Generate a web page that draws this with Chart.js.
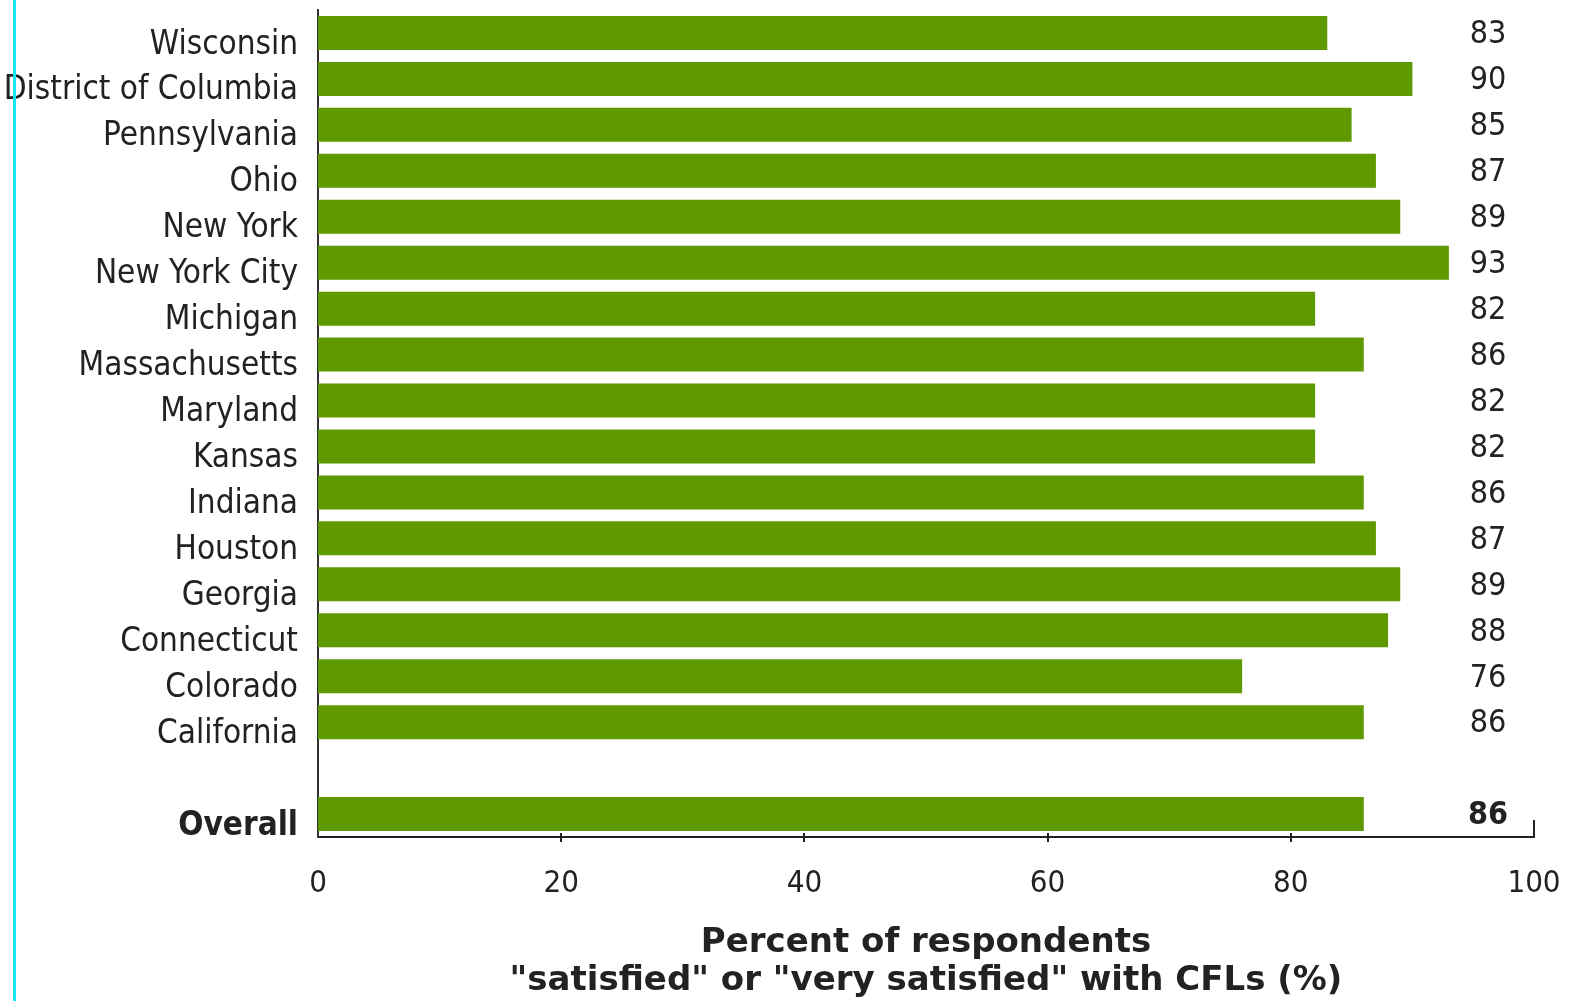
<!DOCTYPE html>
<html>
<head>
<meta charset="utf-8">
<script src="https://cdn.jsdelivr.net/npm/chart.js@4/dist/chart.umd.min.js"></script>
<style>
  html, body { margin: 0; padding: 0; background: #ffffff; }
  #wrap { width: 1572px; height: 1001px; position: relative; }
</style>
</head>
<body>
<div id="wrap"><canvas id="chart" width="1572" height="1001"></canvas></div>
<script>
// Survey regions, top to bottom; the empty entry leaves a gap before the overall figure
const categories = ['Wisconsin', 'District of Columbia', 'Pennsylvania', 'Ohio', 'New York',
  'New York City', 'Michigan', 'Massachusetts', 'Maryland', 'Kansas', 'Indiana', 'Houston',
  'Georgia', 'Connecticut', 'Colorado', 'California', '', 'Overall'];
const satisfied = [83, 90, 85, 87, 89, 93, 82, 86, 82, 82, 86, 87, 89, 88, 76, 86, null, 86];
const xTicks = [0, 20, 40, 60, 80, 100];
const titleLines = ['Percent of respondents', '"satisfied" or "very satisfied" with CFLs (%)'];

const GREEN = '#5f9900';
const INK = '#222222';
const NARROW = '"DejaVu Sans Condensed", "Liberation Sans Narrow", "DejaVu Sans", sans-serif';

// Page edge rule plus axis tick marks
const decorations = {
  id: 'decorations',
  beforeDraw(chart) {
    const ctx = chart.ctx;
    ctx.save();
    ctx.fillStyle = '#ffffff';
    ctx.fillRect(0, 0, chart.width, chart.height);
    ctx.restore();
  },
  afterDraw(chart) {
    const ctx = chart.ctx;
    const x = chart.scales.x;
    const base = chart.scales.y.bottom;
    ctx.save();
    ctx.strokeStyle = INK;
    ctx.lineWidth = 2;
    xTicks.forEach(v => {
      if (v === 0) return;
      const px = Math.round(x.getPixelForValue(v));
      ctx.beginPath();
      if (v === 100) {
        ctx.moveTo(px, base - 17);
        ctx.lineTo(px, base + 1);
      } else {
        ctx.moveTo(px, base - 4);
        ctx.lineTo(px, base + 5);
      }
      ctx.stroke();
    });
    // thin cyan rule along the left edge of the page
    ctx.fillStyle = '#19e6f2';
    ctx.fillRect(13, 0, 3, chart.height);
    ctx.restore();
  }
};

// Value column to the right of the bars
const valueLabels = {
  id: 'valueLabels',
  afterDatasetsDraw(chart) {
    const ctx = chart.ctx;
    const y = chart.scales.y;
    const cx = chart.chartArea.right - 46;
    ctx.save();
    ctx.fillStyle = INK;
    ctx.textAlign = 'center';
    ctx.textBaseline = 'middle';
    satisfied.forEach((v, i) => {
      if (v === null) return;
      const bold = categories[i] === 'Overall';
      ctx.font = (bold ? 'bold ' : '') + '32px ' + NARROW;
      ctx.fillText(String(v), cx, y.getPixelForValue(i) + 2);
    });
    ctx.restore();
  }
};

function noEdgePadding(scale) {
  scale.paddingTop = 0;
  scale.paddingBottom = 0;
  scale.paddingLeft = 0;
  scale.paddingRight = 0;
}

new Chart(document.getElementById('chart'), {
  type: 'bar',
  data: {
    labels: categories,
    datasets: [{
      data: satisfied,
      backgroundColor: GREEN,
      borderWidth: 0,
      barPercentage: 0.74,
      categoryPercentage: 1.0
    }]
  },
  plugins: [decorations, valueLabels],
  options: {
    indexAxis: 'y',
    responsive: false,
    animation: false,
    layout: { padding: { top: 10, right: 38, left: 0, bottom: 0 } },
    plugins: {
      legend: { display: false },
      tooltip: { enabled: false }
    },
    scales: {
      x: {
        type: 'linear',
        min: 0,
        max: 100,
        afterBuildTicks(scale) { scale.ticks = xTicks.map(v => ({ value: v })); },
        afterFit(scale) { scale.height = 164; noEdgePadding(scale); },
        grid: { display: false, drawTicks: false },
        border: { display: true, color: INK, width: 2 },
        ticks: {
          color: INK,
          padding: 28,
          font: { family: NARROW, size: 31 }
        },
        title: {
          display: true,
          text: titleLines,
          color: INK,
          font: { family: '"DejaVu Sans", sans-serif', size: 34, weight: 'bold', lineHeight: 1.12 },
          padding: { top: 0, bottom: 1 }
        }
      },
      y: {
        type: 'category',
        offset: true,
        afterFit(scale) { scale.width = 318; noEdgePadding(scale); },
        grid: { display: false, drawTicks: false },
        border: { display: true, color: '#333333', width: 2 },
        ticks: {
          color: INK,
          padding: 20,
          labelOffset: 12,
          autoSkip: false,
          font(ctx) {
            const bold = ctx.tick && ctx.tick.label === 'Overall';
            return { family: NARROW, size: 33, weight: bold ? 'bold' : 'normal' };
          }
        }
      }
    }
  }
});
</script>
</body>
</html>
